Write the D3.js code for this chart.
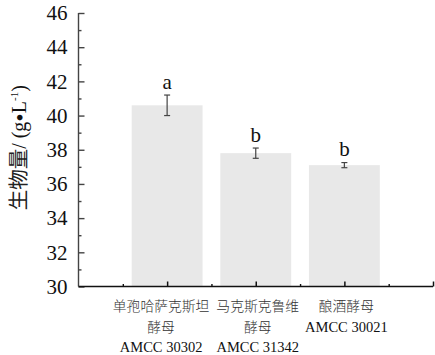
<!DOCTYPE html>
<html><head><meta charset="utf-8">
<script src="https://cdn.jsdelivr.net/npm/d3@7"></script>
<style>body{margin:0;background:#fff}svg{display:block}</style>
</head><body>
<svg id="c" width="435" height="355"></svg>
<script>
const categories = [
  ["单孢哈萨克斯坦", "酵母", "AMCC 30302"],
  ["马克斯克鲁维", "酵母", "AMCC 31342"],
  ["酿酒酵母", "AMCC 30021"]
];
const values = [40.6, 37.8, 37.1];
const errors = [0.6, 0.3, 0.15];
const letters = ["a", "b", "b"];
const yMajorTicks = [30, 32, 34, 36, 38, 40, 42, 44, 46];
const yMinorTicks = [31, 33, 35, 37, 39, 41, 43, 45];
const xMajorTicks = [1, 2, 3, 4];
const xMinorTicks = [0.5, 1.5, 2.5, 3.5];

const svg = d3.select("#c");
const serif = "'Liberation Serif','Times New Roman',serif";
const cjkFont = "'Noto Sans CJK SC',sans-serif";
const isCJK = s => /[\u3400-\u9fff]/.test(s);

const x = d3.scaleLinear().domain([0, 4]).range([78.5, 433]);
const y = d3.scaleLinear().domain([30, 46]).range([286.5, 13]);
const barW = 0.8;

// bars
svg.append("g").selectAll("rect").data(values).join("rect")
  .attr("x", (d, i) => x(i + 1 - barW / 2))
  .attr("width", (d, i) => x(i + 1 + barW / 2) - x(i + 1 - barW / 2))
  .attr("y", d => y(d))
  .attr("height", d => y(30) - y(d))
  .attr("fill", "#e8e8e8");

// error bars
const eg = svg.append("g").attr("stroke", "#444").attr("stroke-width", 1.2);
values.forEach((v, i) => {
  const cx = x(i + 1);
  eg.append("line").attr("x1", cx).attr("x2", cx).attr("y1", y(v - errors[i])).attr("y2", y(v + errors[i]));
  eg.append("line").attr("x1", cx - 3).attr("x2", cx + 3).attr("y1", y(v - errors[i])).attr("y2", y(v - errors[i]));
  eg.append("line").attr("x1", cx - 3).attr("x2", cx + 3).attr("y1", y(v + errors[i])).attr("y2", y(v + errors[i]));
});

// letters
svg.append("g").selectAll("text").data(values).join("text")
  .attr("x", (d, i) => x(i + 1))
  .attr("y", (d, i) => y(d + errors[i]) - 6.5)
  .attr("text-anchor", "middle")
  .attr("font-family", serif).attr("font-size", 21).attr("fill", "#111")
  .text((d, i) => letters[i]);

// y axis
const yAx = svg.append("g").attr("transform", `translate(${x(0)},0)`)
  .call(d3.axisLeft(y).tickValues(yMajorTicks).tickSize(-6).tickPadding(11).tickFormat(d3.format("d")));
const yMin = svg.append("g").attr("transform", `translate(${x(0)},0)`)
  .call(d3.axisLeft(y).tickValues(yMinorTicks).tickSize(-3).tickFormat(""))
  .call(g => g.select(".domain").remove());
[yAx, yMin].forEach(g => g.selectAll("line,path").attr("stroke", "#444").attr("stroke-width", 1.4));
yAx.selectAll("text").attr("font-family", serif).attr("font-size", 21).attr("fill", "#111");
yAx.select(".domain").attr("d", `M0,${y(30)}V${y(46)}`);

// x axis
const xAx = svg.append("g").attr("transform", `translate(0,${y(30)})`)
  .call(d3.axisBottom(x).tickValues(xMajorTicks).tickSize(-5).tickFormat(""));
xAx.select(".domain").attr("d", `M${x(0)},0H${x(4)}`);
svg.append("g").attr("transform", `translate(0,${y(30)})`)
  .call(d3.axisBottom(x).tickValues(xMinorTicks).tickSize(-2.5).tickFormat(""))
  .call(g => g.select(".domain").remove())
  .selectAll("line").attr("stroke", "#111").attr("stroke-width", 1.4);
xAx.selectAll("line,path").attr("stroke", "#111").attr("stroke-width", 1.5);

// x labels
const lg = svg.append("g");
categories.forEach((lines, i) => {
  lines.forEach((t, j) => {
    const cj = isCJK(t);
    lg.append("text")
      .attr("x", x(i + 1) + (i === 0 ? -6 : 2))
      .attr("y", 311 + j * 20.5)
      .attr("text-anchor", "middle")
      .attr("font-family", cj ? cjkFont : serif)
      .attr("font-weight", cj ? 300 : 400)
      .attr("font-size", cj ? 13.8 : 14.5).attr("fill", cj ? "#333" : "#111")
      .text(t);
  });
});

// y title
const yt = svg.append("text")
  .attr("transform", `translate(26,${(y(30) + y(46)) / 2 - 2}) rotate(-90)`)
  .attr("text-anchor", "middle")
  .attr("font-family", serif).attr("font-size", 20).attr("fill", "#111");
yt.append("tspan").attr("font-family", cjkFont).attr("font-weight", 400).attr("font-size", 20.5).attr("fill", "#222").text("生物量");
yt.append("tspan").text("/ (g");
yt.append("tspan").attr("font-size", 24).attr("dy", 1.5).text("•");
yt.append("tspan").attr("dy", -1.5).text("L");
yt.append("tspan").attr("font-size", 11).attr("dy", -8).text("-1");
yt.append("tspan").attr("dy", 8).text(")");
</script>
</body></html>
